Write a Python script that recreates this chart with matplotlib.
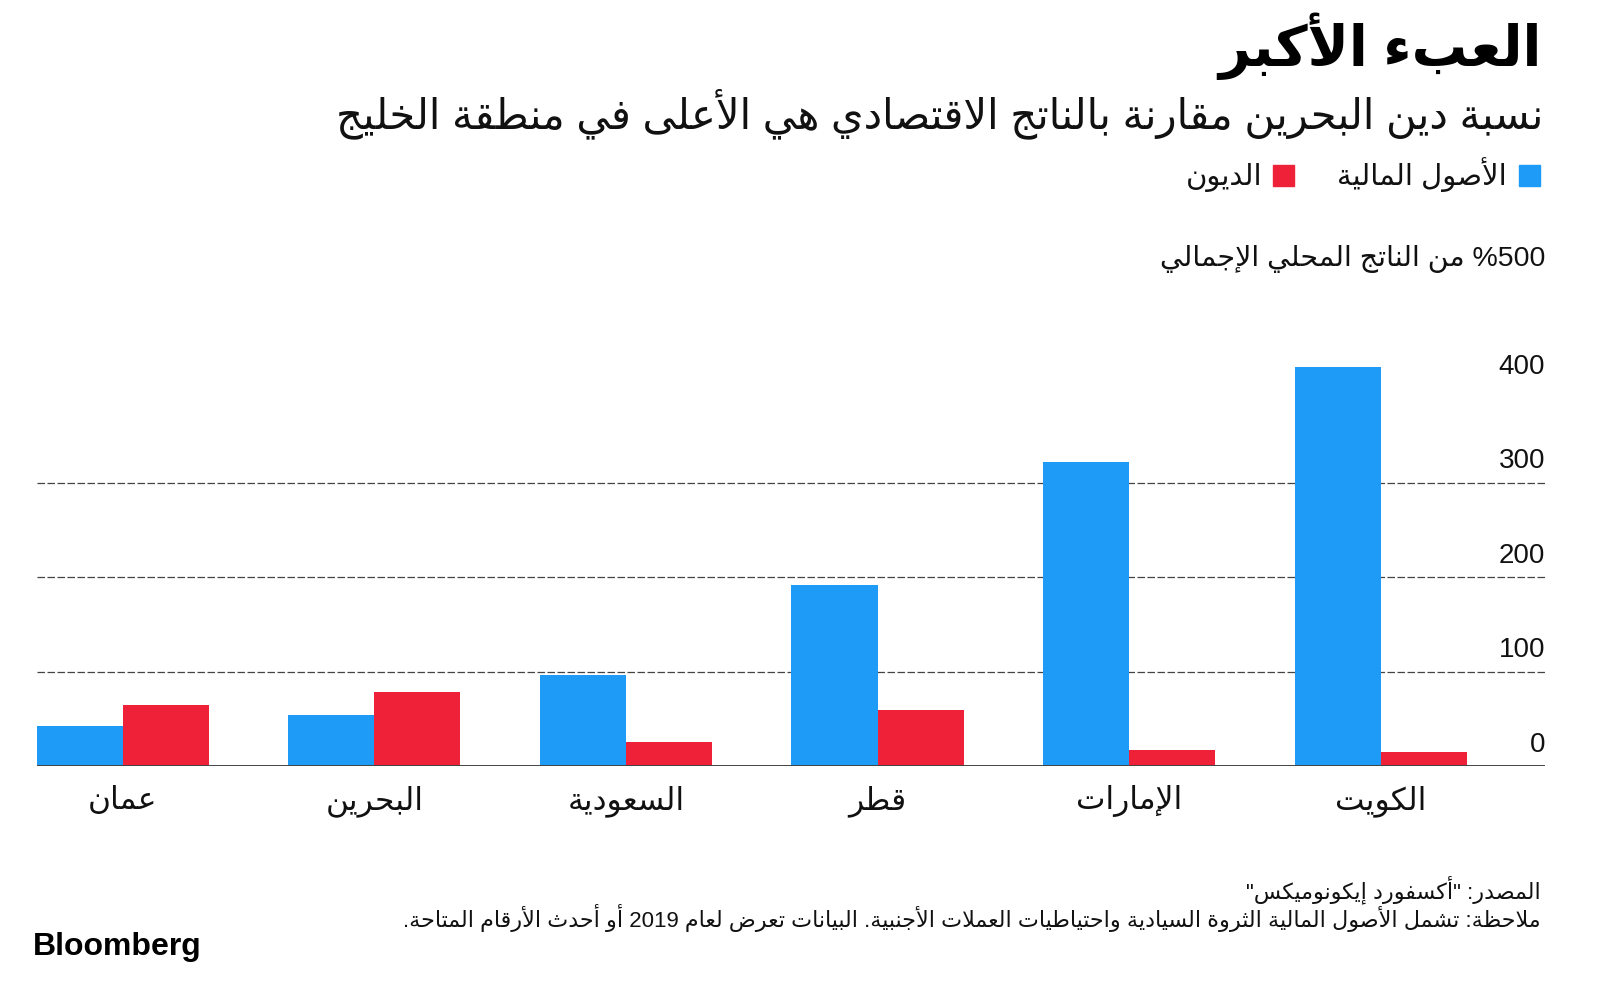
import re
import matplotlib
matplotlib.use("Agg")
import matplotlib.pyplot as plt
from matplotlib.patches import Rectangle

# Dados (ordem de leitura, da direita para a esquerda)
paises = ["الكويت", "الإمارات", "قطر", "السعودية", "البحرين", "عمان"]
ativos = [423, 322, 192, 96, 54, 42]      # الأصول المالية
dividas = [15, 17, 59, 25, 78, 65]        # الديون
ticks_y = [0, 100, 200, 300, 400]
grade_y = [100, 200, 300]

titulo = "العبء الأكبر"
subtitulo = "نسبة دين البحرين مقارنة بالناتج الاقتصادي هي الأعلى في منطقة الخليج"
leg_ativos = "الأصول المالية"
leg_dividas = "الديون"
rotulo_y = "500% من الناتج المحلي الإجمالي"
fonte = 'المصدر: "أكسفورد إيكونوميكس"'
nota = ("ملاحظة: تشمل الأصول المالية الثروة السيادية واحتياطيات العملات الأجنبية. "
        "البيانات تعرض لعام 2019 أو أحدث الأرقام المتاحة.")

AZUL = "#1d9bf6"
VERMELHO = "#ef2139"

# Formas de apresentação árabes: (primeiro código, número de formas)
FORMAS = {
    "ء": (0xFE80, 1), "آ": (0xFE81, 2), "أ": (0xFE83, 2), "ؤ": (0xFE85, 2),
    "إ": (0xFE87, 2), "ئ": (0xFE89, 4), "ا": (0xFE8D, 2), "ب": (0xFE8F, 4),
    "ة": (0xFE93, 2), "ت": (0xFE95, 4), "ث": (0xFE99, 4), "ج": (0xFE9D, 4),
    "ح": (0xFEA1, 4), "خ": (0xFEA5, 4), "د": (0xFEA9, 2), "ذ": (0xFEAB, 2),
    "ر": (0xFEAD, 2), "ز": (0xFEAF, 2), "س": (0xFEB1, 4), "ش": (0xFEB5, 4),
    "ص": (0xFEB9, 4), "ض": (0xFEBD, 4), "ط": (0xFEC1, 4), "ظ": (0xFEC5, 4),
    "ع": (0xFEC9, 4), "غ": (0xFECD, 4), "ف": (0xFED1, 4), "ق": (0xFED5, 4),
    "ك": (0xFED9, 4), "ل": (0xFEDD, 4), "م": (0xFEE1, 4), "ن": (0xFEE5, 4),
    "ه": (0xFEE9, 4), "و": (0xFEED, 2), "ى": (0xFEEF, 2), "ي": (0xFEF1, 4),
}
LAM_ALEF = {"آ": 0xFEF5, "أ": 0xFEF7, "إ": 0xFEF9, "ا": 0xFEFB}


def arabe(texto):
    # matplotlib não faz shaping nem bidi: montar as formas e inverter
    letras = []
    i = 0
    while i < len(texto):
        c = texto[i]
        if c == "ل" and i + 1 < len(texto) and texto[i + 1] in LAM_ALEF:
            letras.append(("LA", LAM_ALEF[texto[i + 1]]))
            i += 2
        else:
            letras.append((c, None))
            i += 1
    saida = []
    for k, (c, lig) in enumerate(letras):
        ant = letras[k - 1][0] if k > 0 else None
        junta_ant = ant in FORMAS and FORMAS[ant][1] == 4
        if lig is not None:
            saida.append(chr(lig + (1 if junta_ant else 0)))
            continue
        if c not in FORMAS:
            saida.append(c)
            continue
        base, n = FORMAS[c]
        prox = letras[k + 1][0] if k + 1 < len(letras) else None
        junta_prox = n == 4 and (prox == "LA" or (prox in FORMAS and FORMAS[prox][1] > 1))
        if junta_ant and junta_prox:
            f = 3
        elif junta_ant:
            f = 1 if n > 1 else 0
        elif junta_prox:
            f = 2
        else:
            f = 0
        saida.append(chr(base + f))
    visual = "".join(saida)[::-1]
    return re.sub(r"[0-9A-Za-z]+", lambda m: m.group(0)[::-1], visual)


plt.rcParams["font.family"] = ["Liberation Sans", "DejaVu Sans"]

W, H = 1600, 985
fig = plt.figure(figsize=(W / 100, H / 100), dpi=100)


def fx(px):
    return px / W


def fy(py):
    return 1 - py / H


ax = fig.add_axes([fx(36.7), fy(766), fx(1545 - 36.7), (766 - 294) / H])

n = len(paises)
pos = [n - 1 - i for i in range(n)]  # Kuwait à direita
largura = 0.342
ax.bar([p - largura / 2 for p in pos], ativos, width=largura, color=AZUL, zorder=2)
ax.bar([p + largura / 2 for p in pos], dividas, width=largura, color=VERMELHO, zorder=2)

ax.set_xlim(-largura, 5.653)
ax.set_ylim(0, 500)

for v in grade_y:
    ax.axhline(v, color="#444444", lw=0.9, ls=(0, (6, 2)), zorder=1)
ax.axhline(0, color="#444444", lw=1.4, zorder=3)

for v in ticks_y:
    ax.annotate(str(v), xy=(1, v), xycoords=("axes fraction", "data"),
                xytext=(0, 6), textcoords="offset points",
                ha="right", va="bottom", fontsize=20, color="#111111")
ax.annotate(arabe(rotulo_y), xy=(1, 500), xycoords=("axes fraction", "data"),
            xytext=(0, 15), textcoords="offset points",
            ha="right", va="bottom", fontsize=20.5, color="#111111")

for p, nome in zip(pos, paises):
    ax.annotate(arabe(nome), xy=(p, 0), xycoords="data",
                xytext=(0, -31), textcoords="offset points",
                ha="center", va="baseline", fontsize=22.5, color="#111111")

for s in ax.spines.values():
    s.set_visible(False)
ax.set_xticks([])
ax.set_yticks([])

# Títulos
fig.text(fx(1542), fy(66), arabe(titulo), ha="right", va="baseline",
         fontsize=40, fontweight="bold", color="#000000")
fig.text(fx(1543), fy(128), arabe(subtitulo), ha="right", va="baseline",
         fontsize=30, color="#111111")

# Legenda
fig.patches.append(Rectangle((fx(1519), fy(186)), fx(21), 21 / H,
                             transform=fig.transFigure, color=AZUL))
fig.text(fx(1507), fy(185), arabe(leg_ativos), ha="right", va="baseline",
         fontsize=21, color="#111111")
fig.patches.append(Rectangle((fx(1273), fy(186)), fx(21), 21 / H,
                             transform=fig.transFigure, color=VERMELHO))
fig.text(fx(1263), fy(185), arabe(leg_dividas), ha="right", va="baseline",
         fontsize=21, color="#111111")

# Rodapé
fig.text(fx(1541), fy(898), arabe(fonte), ha="right", va="baseline",
         fontsize=16, color="#111111")
fig.text(fx(1541), fy(927), arabe(nota), ha="right", va="baseline",
         fontsize=16, color="#111111")
fig.text(fx(33), fy(955), "Bloomberg", ha="left", va="baseline",
         fontsize=23, fontweight="bold", color="#000000")

fig.savefig("out.png", dpi=100)
